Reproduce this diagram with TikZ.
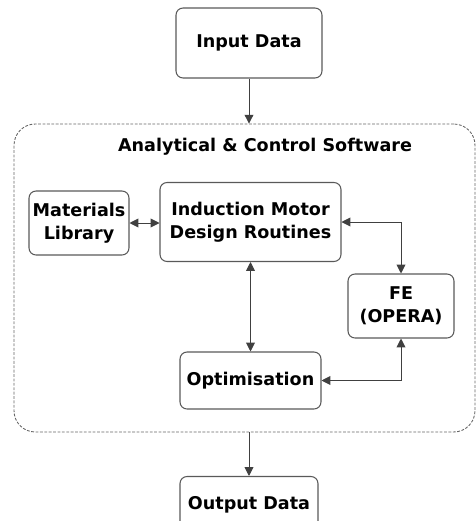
\documentclass[tikz,border=0pt]{standalone}
\usepackage{fontspec}
\setmainfont{DejaVu Sans}
\usepackage{tikz}
\usetikzlibrary{arrows.meta, positioning, calc}

\begin{document}
\begin{tikzpicture}[
    x=0.02cm, y=-0.02cm,
    block/.style={rectangle, draw=black!65, line width=0.6pt, rounded corners=4pt, font=\fontsize{10}{13}\selectfont\bfseries, align=center, inner sep=0pt},
    frame/.style={rectangle, draw=black!60, line width=0.5pt, dash pattern=on 1.6pt off 0.9pt, rounded corners=12pt, minimum width=9.22cm, minimum height=6.16cm, inner sep=0pt},
    arr/.style={-{Triangle[length=5pt,width=5pt]}, black!75, line width=0.5pt},
    arrs/.style={{Triangle[length=5pt,width=5pt]}-{Triangle[length=5pt,width=5pt]}, black!75, line width=0.5pt},
    title/.style={font=\fontsize{10}{13}\selectfont\bfseries}
]
\useasboundingbox (0,0) rectangle (476,521);

% Input
\node[block, minimum width=2.92cm, minimum height=1.4cm] (input) at (249,43) {Input Data};

% Software frame
\node[frame] (software) at (244.5,278) {};
\node[title] (softtitle) at (265,147) {Analytical \& Control Software};

% Inner blocks
\node[block, minimum width=2cm, minimum height=1.28cm] (materials) at (79,223) {Materials\\Library};
\node[block, minimum width=3.62cm, minimum height=1.58cm] (design) at (250.5,222) {Induction Motor\\Design Routines};
\node[block, minimum width=2.12cm, minimum height=1.28cm] (fe) at (401,306) {FE\\(OPERA)};
\node[block, minimum width=2.82cm, minimum height=1.14cm] (optim) at (250.5,380.5) {Optimisation};

% Output
\node[block, minimum width=2.76cm, minimum height=1.14cm] (output) at (249,505) {Output Data};

\draw[arr] (input.south) -- (input.south |- software.north);
\draw[arrs] (materials.east) -- (materials.east -| design.west);
\draw[arrs] (design.east) -| (fe.north);
\draw[arrs] (design.south) -- (optim.north);
\draw[arrs] (optim.east) -| (fe.south);
\draw[arr] (output.north |- software.south) -- (output.north);
\end{tikzpicture}
\end{document}
